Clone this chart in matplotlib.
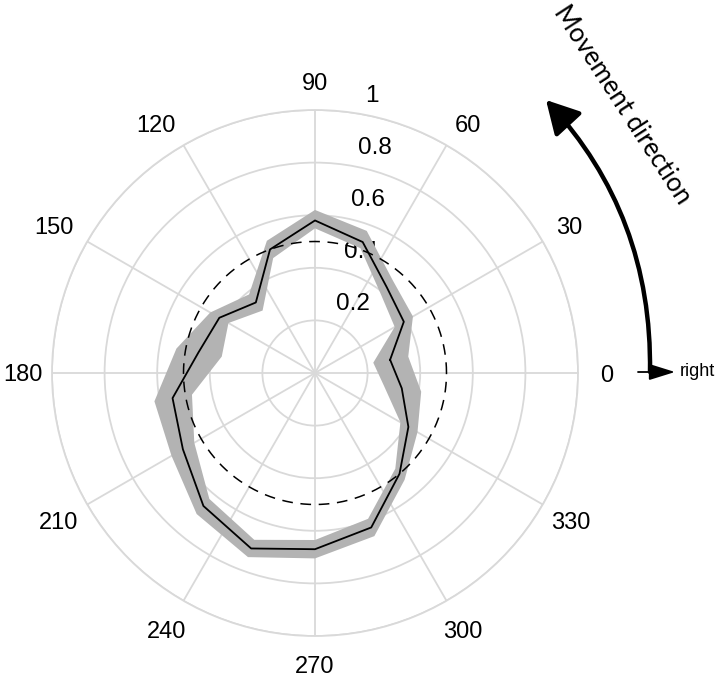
import numpy as np
import matplotlib
matplotlib.use("Agg")
import matplotlib.pyplot as plt
from matplotlib.path import Path
from matplotlib.patches import PathPatch, FancyArrowPatch

# ---------------- data ----------------
directions_deg = [10, 30, 50, 70, 90, 110, 130, 150, 170, 190,
                  210, 230, 250, 270, 290, 310, 330, 350]
mean_response = [0.29, 0.39, 0.425, 0.53, 0.58, 0.50, 0.35, 0.42, 0.45, 0.55,
                 0.58, 0.66, 0.71, 0.67, 0.625, 0.50, 0.41, 0.335]
band_lower = [0.225, 0.35, 0.39, 0.505, 0.55, 0.465, 0.31, 0.38, 0.36, 0.475,
              0.53, 0.625, 0.675, 0.635, 0.59, 0.475, 0.375, 0.265]
band_upper = [0.36, 0.43, 0.46, 0.575, 0.62, 0.535, 0.39, 0.46, 0.535, 0.62,
              0.63, 0.70, 0.745, 0.705, 0.66, 0.53, 0.45, 0.41]
reference_level = 0.5
angle_ticks = list(range(0, 360, 30))
angle_labels = [str(a) for a in angle_ticks]
radial_ticks = [0.2, 0.4, 0.6, 0.8, 1.0]
radial_labels = ["0.2", "0.4", "0.6", "0.8", "1"]
direction_title = "Movement direction"
direction_label = "right"

# ---------------- style ----------------
plt.rcParams["font.family"] = ["Liberation Sans", "DejaVu Sans"]
GRID = "#d9d9d9"
BAND = "#b3b3b3"
FS_ANG = 17

W, H = 720, 683
fig = plt.figure(figsize=(W / 100, H / 100), dpi=100)
cx, cy, R = 315, 373, 263
ax = fig.add_axes([(cx - R) / W, (H - cy - R) / H, 2 * R / W, 2 * R / H],
                  projection="polar")
ax.set_ylim(0, 1)
ax.set_xticks(np.deg2rad(angle_ticks))
ax.set_xticklabels([])
ax.set_yticks(radial_ticks)
ax.set_yticklabels([])
ax.tick_params(length=0)
ax.grid(True, color=GRID, lw=1.3)
ax.spines["polar"].set_color(GRID)
ax.spines["polar"].set_linewidth(1.3)
ax.set_axisbelow(True)

# angular labels
for a, lab in zip(angle_ticks, angle_labels):
    t = np.deg2rad(a)
    c, s = np.cos(t), np.sin(t)
    if abs(c) > 0.99 or abs(s) > 0.99:
        ax.text(t, 1.11, lab, ha="center", va="center_baseline",
                fontsize=FS_ANG, clip_on=False)
    elif s < 0:
        ax.text(t, 1.125, lab, ha="center", va="center_baseline",
                fontsize=FS_ANG, clip_on=False)
    else:
        half_w = len(lab) * 0.556 * FS_ANG / 2
        half_h = 0.716 * FS_ANG / 2
        ax.annotate(lab, xy=(t, 1.06), xytext=(np.sign(c) * half_w,
                                               np.sign(s) * half_h),
                    textcoords="offset points", ha="center",
                    va="center_baseline", fontsize=FS_ANG,
                    annotation_clip=False)

# radial labels (under the data)
for v, lab in zip(radial_ticks, radial_labels):
    ax.annotate(lab, xy=(np.deg2rad(82), v), xytext=(10.0, 12),
                textcoords="offset points", ha="left", va="center",
                fontsize=17.5, zorder=1)

# gray band (ring between lower and upper)
th = np.deg2rad(directions_deg)
outer = list(zip(th, band_upper))
inner = list(zip(th[::-1], band_lower[::-1]))
verts = outer + [outer[0]] + inner + [inner[0]]
codes = ([Path.MOVETO] + [Path.LINETO] * (len(outer) - 1) + [Path.CLOSEPOLY]
         + [Path.MOVETO] + [Path.LINETO] * (len(inner) - 1) + [Path.CLOSEPOLY])
band = PathPatch(Path(verts, codes), facecolor=BAND, edgecolor="none", zorder=2)
ax.add_patch(band)

# dashed reference circle
th_fine = np.linspace(0, 2 * np.pi, 721)
ax.plot(th_fine, np.full_like(th_fine, reference_level), color="black",
        lw=1.1, ls=(0, (7, 5)), zorder=2.5)

# mean response line
th_c = np.append(th, th[0])
r_c = np.append(mean_response, mean_response[0])
ax.plot(th_c, r_c, color="black", lw=1.3, zorder=3)

# ---------------- direction arrows ----------------
def fp(x, y):
    return (x / W, 1 - y / H)

curved = FancyArrowPatch(fp(650, 372), fp(546, 100),
                         transform=fig.transFigure,
                         connectionstyle="arc3,rad=0.2",
                         arrowstyle="-|>,head_length=1.0,head_width=0.55",
                         mutation_scale=20, lw=3.2, color="black",
                         shrinkA=0, shrinkB=0)
fig.add_artist(curved)
straight = FancyArrowPatch(fp(638, 372), fp(675, 372),
                           transform=fig.transFigure,
                           arrowstyle="-|>,head_length=1.6,head_width=0.5",
                           mutation_scale=10, lw=1.3, color="black",
                           shrinkA=0, shrinkB=0)
fig.add_artist(straight)
fig.text(680 / W, 1 - 372 / H, direction_label, ha="left", va="center",
         fontsize=13)
fig.text(622 / W, 1 - 105 / H, direction_title, rotation=-57,
         ha="center", va="center", rotation_mode="anchor", fontsize=18.5,
         family=["Lato", "DejaVu Sans"])

fig.savefig("out.png", dpi=100)
